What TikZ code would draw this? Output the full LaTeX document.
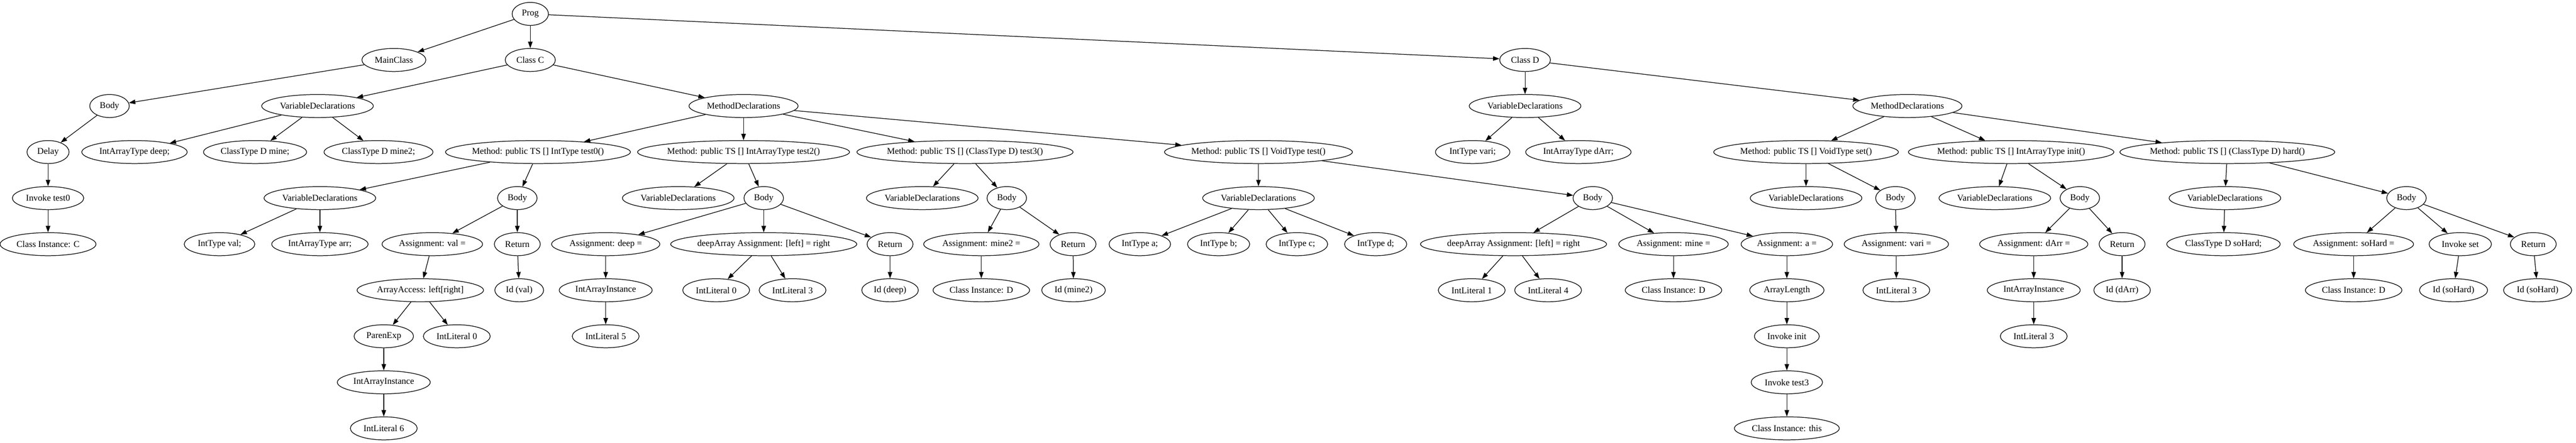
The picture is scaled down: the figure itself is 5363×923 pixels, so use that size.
\documentclass[tikz,border=0pt]{standalone}
\usepackage{fontspec}
\setmainfont{Liberation Serif}
\usepackage{tikz}
\usetikzlibrary{shapes.geometric, arrows.meta}
\tikzstyle{arrow} = [line width=1pt,->,>={Triangle[length=10pt,width=7pt]}]
\tikzstyle{block} = [ellipse, draw, line width=1pt, minimum width=54pt, minimum height=36pt, inner xsep=7.92pt, inner ysep=3.96pt, font=\fontsize{14}{16.8}\selectfont,
    execute at begin node={\setbox0=\hbox\bgroup},
    execute at end node={\egroup\hbox to 0.915\wd0{\hss\box0\hss}}]

\begin{document}
\begin{tikzpicture}[x=0.75pt, y=-0.75pt]
    \useasboundingbox (0,0) rectangle (5363,923);

    % rank 0 and 1
    \node (prog) [block] at (1104,29) {Prog};
    \node (main) [block] at (820,125) {MainClass};
    \node (clsC) [block] at (1104,125) {Class C};
    \node (clsD) [block] at (3175,125) {Class D};

    % rank 2
    \node (mbody) [block] at (228,221) {Body};
    \node (cvars) [block] at (661,221) {VariableDeclarations};
    \node (cmeth) [block] at (1548,221) {MethodDeclarations};
    \node (dvars) [block] at (3175,221) {VariableDeclarations};
    \node (dmeth) [block] at (3971,221) {MethodDeclarations};

    % rank 3
    \node (delay) [block] at (100,317) {Delay};
    \node (deep) [block] at (280,317) {IntArrayType deep;};
    \node (mine) [block] at (531,317) {ClassType D mine;};
    \node (mineb) [block] at (788,317) {ClassType D mine2;};
    \node (mtest0) [block] at (1120,317) {Method: public TS [] IntType test0()};
    \node (mtest2) [block] at (1548,317) {Method: public TS [] IntArrayType test2()};
    \node (mtest3) [block] at (2009,317) {Method: public TS [] (ClassType D) test3()};
    \node (mtest) [block] at (2620,317) {Method: public TS [] VoidType test()};
    \node (vari) [block] at (3066,317) {IntType vari;};
    \node (darr) [block] at (3286,317) {IntArrayType dArr;};
    \node (mset) [block] at (3760,317) {Method: public TS [] VoidType set()};
    \node (minit) [block] at (4187,317) {Method: public TS [] IntArrayType init()};
    \node (mhard) [block] at (4637,317) {Method: public TS [] (ClassType D) hard()};

    % rank 4
    \node (invk) [block] at (100,413) {Invoke test0};
    \node (t0vars) [block] at (666,413) {VariableDeclarations};
    \node (t0body) [block] at (1077,413) {Body};
    \node (t2vars) [block] at (1412,413) {VariableDeclarations};
    \node (t2body) [block] at (1590,413) {Body};
    \node (t3vars) [block] at (1920,413) {VariableDeclarations};
    \node (t3body) [block] at (2096,413) {Body};
    \node (tvars) [block] at (2620,413) {VariableDeclarations};
    \node (tbody) [block] at (3316,413) {Body};
    \node (svars) [block] at (3760,413) {VariableDeclarations};
    \node (sbody) [block] at (3946,413) {Body};
    \node (ivars) [block] at (4153,413) {VariableDeclarations};
    \node (ibody) [block] at (4330,413) {Body};
    \node (hvars) [block] at (4632,413) {VariableDeclarations};
    \node (hbody) [block] at (5010,413) {Body};

    % rank 5
    \node (cinst) [block] at (100,509) {Class Instance: C};
    \node (val) [block] at (457,509) {IntType val;};
    \node (arr) [block] at (666,509) {IntArrayType arr;};
    \node (asval) [block] at (900,509) {Assignment: val =};
    \node (ret0) [block] at (1077,509) {Return};
    \node (asdeep) [block] at (1261,509) {Assignment: deep =};
    \node (dpa2) [block] at (1590,509) {deepArray Assignment: [left] = right};
    \node (ret2) [block] at (1853,509) {Return};
    \node (asmine2) [block] at (2043,509) {Assignment: mine2 =};
    \node (ret3) [block] at (2234,509) {Return};
    \node (inta) [block] at (2373,509) {IntType a;};
    \node (intb) [block] at (2537,509) {IntType b;};
    \node (intc) [block] at (2700,509) {IntType c;};
    \node (intd) [block] at (2864,509) {IntType d;};
    \node (dpat) [block] at (3151,509) {deepArray Assignment: [left] = right};
    \node (asmine) [block] at (3484,509) {Assignment: mine =};
    \node (asa) [block] at (3720,509) {Assignment: a =};
    \node (asvari) [block] at (3948,509) {Assignment: vari =};
    \node (asdarr) [block] at (4234,509) {Assignment: dArr =};
    \node (reti) [block] at (4418,509) {Return};
    \node (sohard) [block] at (4629,509) {ClassType D soHard;};
    \node (assoh) [block] at (4900,509) {Assignment: soHard =};
    \node (invset) [block] at (5122,509) {Invoke set};
    \node (reth) [block] at (5274,509) {Return};

    % rank 6
    \node (acc) [block] at (875,605) {ArrayAccess: left[right]};
    \node (idval) [block] at (1081,605) {Id (val)};
    \node (iai2) [block] at (1261,605) {IntArrayInstance};
    \node (lit0) [block] at (1491,605) {IntLiteral 0};
    \node (lit3) [block] at (1650,605) {IntLiteral 3};
    \node (iddeep) [block] at (1853,605) {Id (deep)};
    \node (cid3) [block] at (2043,605) {Class Instance: D};
    \node (idmine2) [block] at (2235,605) {Id (mine2)};
    \node (lit1) [block] at (3064,605) {IntLiteral 1};
    \node (lit4) [block] at (3223,605) {IntLiteral 4};
    \node (cidt) [block] at (3484,605) {Class Instance: D};
    \node (alen) [block] at (3720,605) {ArrayLength};
    \node (litv) [block] at (3948,605) {IntLiteral 3};
    \node (iaii) [block] at (4234,605) {IntArrayInstance};
    \node (iddarr) [block] at (4418,605) {Id (dArr)};
    \node (cidh) [block] at (4900,605) {Class Instance: D};
    \node (idsoh) [block] at (5108,605) {Id (soHard)};
    \node (idsohr) [block] at (5283,605) {Id (soHard)};

    % rank 7 to 9
    \node (paren) [block] at (799,701) {ParenExp};
    \node (lit00) [block] at (951,701) {IntLiteral 0};
    \node (lit5) [block] at (1261,701) {IntLiteral 5};
    \node (invinit) [block] at (3720,701) {Invoke init};
    \node (liti) [block] at (4234,701) {IntLiteral 3};
    \node (iai0) [block] at (799,797) {IntArrayInstance};
    \node (invt3) [block] at (3720,797) {Invoke test3};
    \node (lit6) [block] at (799,893) {IntLiteral 6};
    \node (cthis) [block] at (3720,893) {Class Instance: this};

    % main class
    \draw [arrow] (prog) -- (main);
    \draw [arrow] (prog) -- (clsC);
    \draw [arrow] (prog) -- (clsD);
    \draw [arrow] (main) -- (mbody);
    \draw [arrow] (mbody) -- (delay);
    \draw [arrow] (delay) -- (invk);
    \draw [arrow] (invk) -- (cinst);

    % class C
    \draw [arrow] (clsC) -- (cvars);
    \draw [arrow] (clsC) -- (cmeth);
    \draw [arrow] (cvars) -- (deep);
    \draw [arrow] (cvars) -- (mine);
    \draw [arrow] (cvars) -- (mineb);
    \draw [arrow] (cmeth) -- (mtest0);
    \draw [arrow] (cmeth) -- (mtest2);
    \draw [arrow] (cmeth) -- (mtest3);
    \draw [arrow] (cmeth) -- (mtest);
    \draw [arrow] (mtest0) -- (t0vars);
    \draw [arrow] (mtest0) -- (t0body);
    \draw [arrow] (t0vars) -- (val);
    \draw [arrow] (t0vars) -- (arr);
    \draw [arrow] (t0body) -- (asval);
    \draw [arrow] (t0body) -- (ret0);
    \draw [arrow] (asval) -- (acc);
    \draw [arrow] (acc) -- (paren);
    \draw [arrow] (acc) -- (lit00);
    \draw [arrow] (paren) -- (iai0);
    \draw [arrow] (iai0) -- (lit6);
    \draw [arrow] (ret0) -- (idval);
    \draw [arrow] (mtest2) -- (t2vars);
    \draw [arrow] (mtest2) -- (t2body);
    \draw [arrow] (t2body) -- (asdeep);
    \draw [arrow] (t2body) -- (dpa2);
    \draw [arrow] (t2body) -- (ret2);
    \draw [arrow] (asdeep) -- (iai2);
    \draw [arrow] (iai2) -- (lit5);
    \draw [arrow] (dpa2) -- (lit0);
    \draw [arrow] (dpa2) -- (lit3);
    \draw [arrow] (ret2) -- (iddeep);
    \draw [arrow] (mtest3) -- (t3vars);
    \draw [arrow] (mtest3) -- (t3body);
    \draw [arrow] (t3body) -- (asmine2);
    \draw [arrow] (t3body) -- (ret3);
    \draw [arrow] (asmine2) -- (cid3);
    \draw [arrow] (ret3) -- (idmine2);
    \draw [arrow] (mtest) -- (tvars);
    \draw [arrow] (mtest) -- (tbody);
    \draw [arrow] (tvars) -- (inta);
    \draw [arrow] (tvars) -- (intb);
    \draw [arrow] (tvars) -- (intc);
    \draw [arrow] (tvars) -- (intd);
    \draw [arrow] (tbody) -- (dpat);
    \draw [arrow] (tbody) -- (asmine);
    \draw [arrow] (tbody) -- (asa);
    \draw [arrow] (dpat) -- (lit1);
    \draw [arrow] (dpat) -- (lit4);
    \draw [arrow] (asmine) -- (cidt);
    \draw [arrow] (asa) -- (alen);
    \draw [arrow] (alen) -- (invinit);
    \draw [arrow] (invinit) -- (invt3);
    \draw [arrow] (invt3) -- (cthis);

    % class D
    \draw [arrow] (clsD) -- (dvars);
    \draw [arrow] (clsD) -- (dmeth);
    \draw [arrow] (dvars) -- (vari);
    \draw [arrow] (dvars) -- (darr);
    \draw [arrow] (dmeth) -- (mset);
    \draw [arrow] (dmeth) -- (minit);
    \draw [arrow] (dmeth) -- (mhard);
    \draw [arrow] (mset) -- (svars);
    \draw [arrow] (mset) -- (sbody);
    \draw [arrow] (sbody) -- (asvari);
    \draw [arrow] (asvari) -- (litv);
    \draw [arrow] (minit) -- (ivars);
    \draw [arrow] (minit) -- (ibody);
    \draw [arrow] (ibody) -- (asdarr);
    \draw [arrow] (ibody) -- (reti);
    \draw [arrow] (asdarr) -- (iaii);
    \draw [arrow] (iaii) -- (liti);
    \draw [arrow] (reti) -- (iddarr);
    \draw [arrow] (mhard) -- (hvars);
    \draw [arrow] (mhard) -- (hbody);
    \draw [arrow] (hvars) -- (sohard);
    \draw [arrow] (hbody) -- (assoh);
    \draw [arrow] (hbody) -- (invset);
    \draw [arrow] (hbody) -- (reth);
    \draw [arrow] (assoh) -- (cidh);
    \draw [arrow] (invset) -- (idsoh);
    \draw [arrow] (reth) -- (idsohr);
\end{tikzpicture}
\end{document}
